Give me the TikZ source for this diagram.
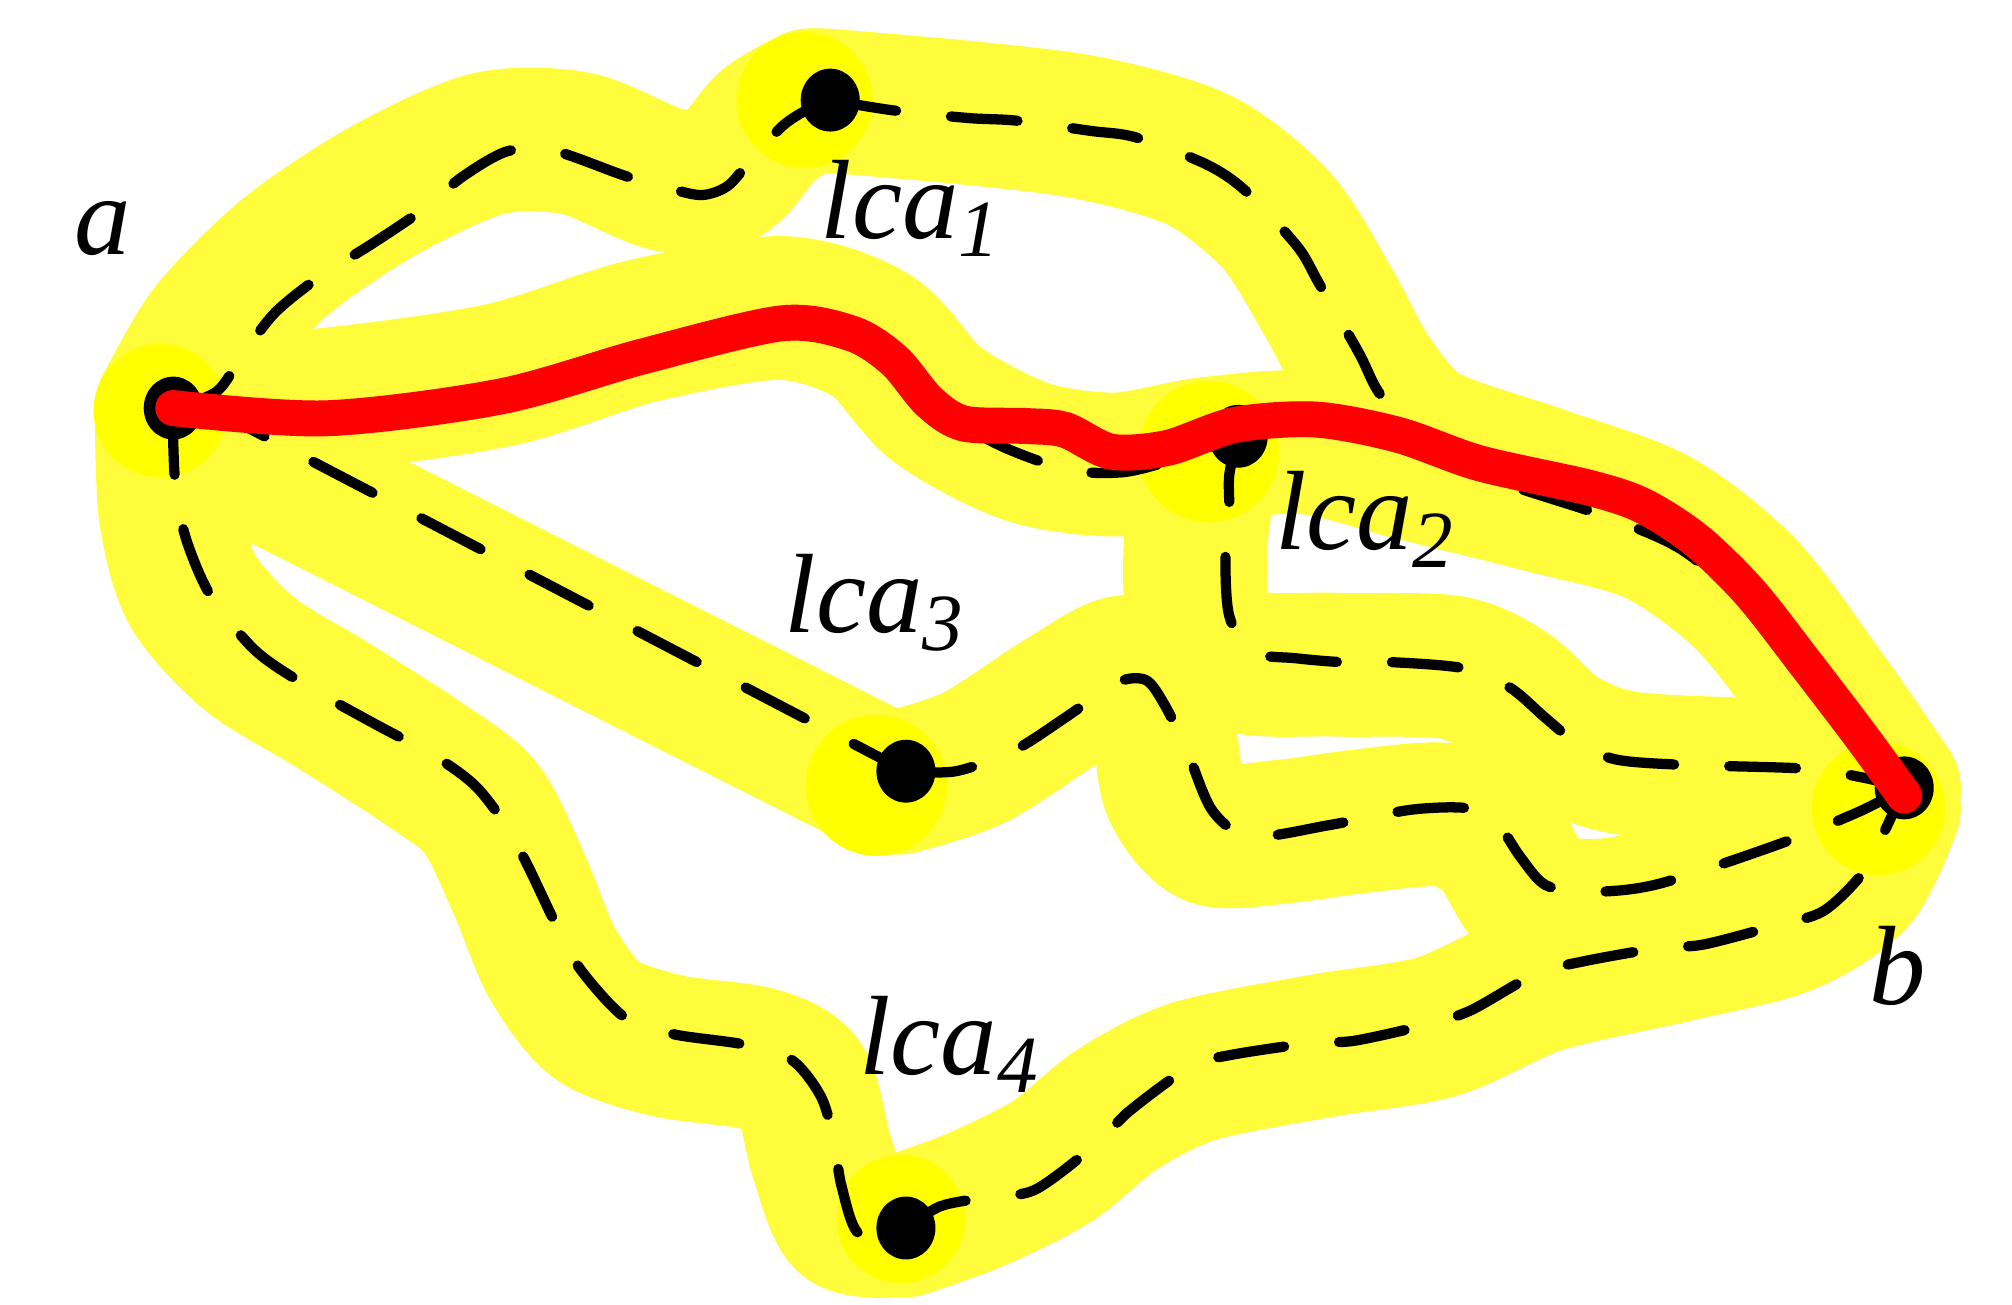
\documentclass[tikz,border=0pt]{standalone}
\usepackage{fontspec}
\setmainfont{Liberation Serif}
\usetikzlibrary{calc, backgrounds, shapes.geometric}
\definecolor{hlband}{RGB}{255,252,60}
\definecolor{hldisc}{RGB}{255,255,0}
\newcommand{\lcasub}[1]{lca\raisebox{-4pt}{\fontsize{18}{18}\selectfont #1}}

\begin{document}
\begin{tikzpicture}[
  x=0.1mm, y=-0.1mm,
  font=\fontsize{25}{30}\selectfont\itshape,
  vtx/.style={ellipse, fill=black, inner sep=0pt, minimum width=4.6mm, minimum height=4.9mm},
  band/.style={hlband, line width=11.2mm, line cap=round, line join=round},
  glow/.style={hldisc},
  route/.style={black, line width=0.8mm, line cap=round, dash pattern=on 5.2mm off 4.3mm},
  best/.style={red, line width=2.8mm, line cap=round, line join=round},
  lbl/.style={anchor=base west, inner sep=0pt},
]
\useasboundingbox (0,0) rectangle (1568,1017);
% --- vertices ---
\node[vtx] (a) at (135,318) {};
\node[vtx] (lca1) at (647,78) {};
\node[vtx] (lca2) at (965,340) {};
\node[vtx] (lca3) at (706,601) {};
\node[vtx] (lca4) at (706,957) {};
\node[vtx] (b) at (1484,614) {};
% --- labels ---
\node[lbl] (la) at (57,198) {a};
\node[lbl] (l1) at (639,186) {\lcasub{1}};
\node[lbl] (l2) at (993,428) {\lcasub{2}};
\node[lbl] (l3) at (611,493) {\lcasub{3}};
\node[lbl] (l4) at (669,837) {\lcasub{4}};
\node[lbl] (lb) at (1456,783) {b};
% --- highlighter bands ---
\begin{scope}[on background layer]
\draw[band] plot[smooth] coordinates {(130,318) (165,258) (225,198) (300,148) (380,112) (450,112) (520,140) (565,135) (598,98) (632,78)};
\draw[band] plot[smooth] coordinates {(640,78) (755,88) (850,100) (935,125) (995,172) (1035,235) (1068,295) (1110,340) (1200,372) (1290,405) (1360,460) (1420,540) (1472,615)};
\draw[band] plot[smooth] coordinates {(130,318) (250,312) (390,292) (500,258) (609,240) (680,262) (730,315) (800,352) (870,362) (940,350) (1020,345) (1100,365) (1200,390) (1290,415) (1360,465) (1420,540) (1472,615)};
\draw[band] (135,330) -- (690,610);
\draw[band] plot[smooth] coordinates {(700,610) (760,590) (830,545) (880,520) (905,560) (915,615) (945,650) (1000,648) (1060,640) (1126,635) (1165,655) (1195,700) (1240,710) (1300,700) (1386,668) (1472,630)};
\draw[band] plot[smooth] coordinates {(942,352) (932,420) (935,480) (968,515) (1040,518) (1130,520) (1175,540) (1215,575) (1270,595) (1400,602) (1472,615)};
\draw[band] plot[smooth] coordinates {(130,330) (133,400) (150,460) (195,510) (260,550) (330,595) (375,630) (405,690) (430,750) (465,795) (520,815) (590,825) (625,845) (640,900) (660,950) (700,955)};
\draw[band] plot[smooth] coordinates {(705,955) (760,935) (820,905) (870,865) (930,835) (1030,815) (1120,800) (1200,765) (1300,742) (1390,720) (1445,685) (1472,630)};
\fill[glow] ($(a)+(-10,2)$) circle[radius=5.2mm];
\fill[glow] ($(lca1)+(-20,0)$) circle[radius=5.3mm];
\fill[glow] ($(lca2)+(-23,12)$) circle[radius=5.5mm];
\fill[glow] ($(lca3)+(-23,11)$) circle[radius=5.5mm];
\fill[glow] ($(lca4)+(-4,-7)$) circle[radius=5mm];
\fill[glow] ($(b)+(-20,16)$) circle[radius=5.2mm];
\end{scope}
% --- dashed routes ---
\draw[route] plot[smooth] coordinates {(a.center) (169,305) (190,275) (215,243) (250,215) (290,190) (330,163) (360,138) (395,118) (430,117) (487,137) (522,147) (547,152) (567,145) (585,125) (610,98) (630,85) (lca1.center)};
\draw[route] plot[smooth] coordinates {(lca1.center) (696,86) (755,92) (792,94) (850,102) (885,107) (940,128) (971,149) (1011,192) (1028,221) (1059,275) (1074,305) (1101,339) (1160,372) (1250,402) (1310,428) (1362,472) (1410,528) (b.center)};
\draw[route] plot[smooth] coordinates {(a.center) (250,330) (400,310) (520,272) (610,252) (665,262) (700,290) (730,318) (779,347) (832,366) (875,368) (915,358) (lca2.center)};
\draw[route] plot[smooth] coordinates {(lca2.center) (958,370) (958,400) (955,435) (958,480) (975,508) (1010,513) (1046,516) (1084,516) (1142,521) (1177,536) (1205,560) (1230,580) (1260,592) (1310,596) (1406,599) (1452,606) (b.center)};
\draw[route] (160,316) -- (lca3.center);
\draw[route] plot[smooth] coordinates {(lca3.center) (745,601) (790,585) (832,558) (870,532) (893,530) (908,550) (925,585) (945,632) (975,652) (1036,643) (1100,631) (1145,630) (1167,642) (1185,668) (1205,690) (1240,695) (1292,689) (1386,658) (1450,632) (b.center)};
\draw[route] plot[smooth] coordinates {(a.center) (135,345) (137,380) (145,420) (164,464) (199,507) (240,535) (290,563) (340,590) (370,612) (392,640) (410,672) (433,720) (452,755) (487,793) (525,806) (580,814) (617,826) (640,855) (650,890) (656,925) (670,962) (lca4.center)};
\draw[route] plot[smooth] coordinates {(lca4.center) (733,940) (770,933) (807,927) (855,891) (880,866) (928,831) (960,822) (1021,813) (1056,811) (1114,798) (1147,787) (1197,759) (1235,749) (1292,739) (1328,736) (1385,721) (1421,710) (1452,680) (1470,645) (b.center)};
% --- the red path a -> b ---
\draw[best] plot[smooth] coordinates {(a.center) (254,326) (390,309) (500,278) (609,252) (664,260) (697,281) (724,313) (751,330) (800,332) (830,335) (866,352) (910,349) (963,331) (1026,327) (1090,339) (1153,361) (1238,380) (1280,394) (1322,421) (1364,462) (1407,517) (1449,572) (1484,620)};
\end{tikzpicture}
\end{document}
